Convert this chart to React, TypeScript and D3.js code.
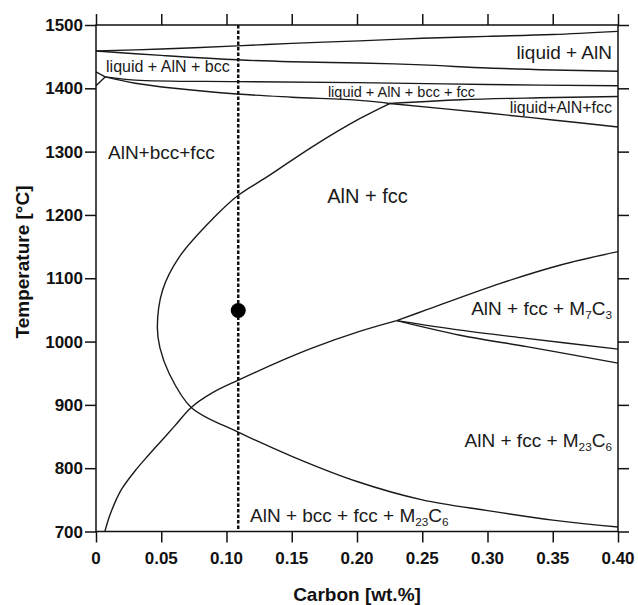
import React, { Component } from "react";
import * as d3 from "d3";

// axis ticks
const xTicks = [0, 0.05, 0.1, 0.15, 0.2, 0.25, 0.3, 0.35, 0.4];
const xTickLabels = ["0", "0.05", "0.10", "0.15", "0.20", "0.25", "0.30", "0.35", "0.40"];
const yTicks = [700, 800, 900, 1000, 1100, 1200, 1300, 1400, 1500];

// phase boundaries, [carbon wt.%, temperature °C]
const liquidus = [[0, 1459], [0.05, 1462], [0.108, 1467], [0.15, 1471], [0.202, 1475], [0.25, 1479], [0.3, 1482], [0.35, 1485], [0.4, 1490]];
const liquidAlnLower = [[0, 1459], [0.05, 1452], [0.108, 1445], [0.15, 1442], [0.202, 1440], [0.25, 1437], [0.3, 1432], [0.35, 1429], [0.4, 1427]];
const bccNoseTop = [[0, 1426], [0.007, 1418]];
const bccNoseBottom = [[0, 1404], [0.007, 1418]];
const bccUpper = [[0.007, 1418], [0.03, 1413], [0.108, 1410.5], [0.2, 1409], [0.3, 1406], [0.4, 1404]];
const bccLower = [[0.007, 1418], [0.03, 1408], [0.06, 1400], [0.108, 1391], [0.15, 1386], [0.202, 1381], [0.225, 1376]];
const fourPhaseLower = [[0.225, 1376], [0.28, 1382], [0.34, 1385], [0.4, 1387]];
const fccLiquidLower = [[0.225, 1376], [0.3, 1361], [0.35, 1350], [0.4, 1339]];
const fccBoundary = [
  [0.225, 1376], [0.202, 1352], [0.166, 1308], [0.131, 1260], [0.109, 1231], [0.09, 1195],
  [0.064, 1134], [0.051, 1081], [0.047, 1023], [0.049, 990], [0.056, 950], [0.073, 896],
  [0.109, 857], [0.151, 818], [0.2, 779], [0.25, 750], [0.3, 733], [0.35, 718], [0.4, 707],
];
const carbideBoundary = [
  [0.0068, 700], [0.01, 722], [0.015, 748], [0.02, 768], [0.03, 796], [0.04, 820], [0.05, 843],
  [0.06, 866], [0.073, 896], [0.09, 920], [0.109, 939], [0.1435, 971], [0.166, 990],
  [0.202, 1016], [0.2304, 1033],
];
const m7c3Upper = [[0.2304, 1033], [0.253, 1050], [0.31, 1092], [0.356, 1121], [0.4, 1142]];
const m7c3LowerA = [[0.2304, 1033], [0.279, 1018], [0.33, 1005], [0.4, 988]];
const m7c3LowerB = [[0.2304, 1033], [0.279, 1010], [0.33, 992], [0.4, 966]];

const curves = [
  liquidus, liquidAlnLower, bccNoseTop, bccNoseBottom, bccUpper, bccLower,
  fourPhaseLower, fccLiquidLower, fccBoundary, carbideBoundary, m7c3Upper, m7c3LowerA, m7c3LowerB,
];

// alloy composition and the marked point
const alloyCarbon = 0.109;
const markedPoint = [0.109, 1049];

// region labels: text, carbon, temperature, anchor, size
const regionLabels = [
  ["liquid + AlN", 0.3954, 1447, "end", 19],
  ["liquid + AlN + bcc", 0.0077, 1425, "start", 16],
  ["liquid + AlN + bcc + fcc", 0.2904, 1386.5, "end", 14.5],
  ["liquid+AlN+fcc", 0.3954, 1361, "end", 16],
  ["AlN+bcc+fcc", 0.0092, 1289, "start", 19],
  ["AlN + fcc", 0.1772, 1219, "start", 20],
  ["AlN + fcc + M_{7}C_{3}", 0.3954, 1042, "end", 19],
  ["AlN + fcc + M_{23}C_{6}", 0.3954, 833, "end", 19],
  ["AlN + bcc + fcc + M_{23}C_{6}", 0.118, 715, "start", 19],
];

class App extends Component {
  componentDidMount() {
    this.draw();
  }

  draw() {
    const svg = d3.select(".phase_svg");
    const left = 96, right = 618, top = 25, bottom = 531.5;
    const font = "'Liberation Sans', Arial, Helvetica, sans-serif";

    const x = d3.scaleLinear().domain([0, 0.4]).range([left, right]);
    const y = d3.scaleLinear().domain([700, 1500]).range([bottom, top]);

    // frame
    svg.append("rect")
      .attr("x", left).attr("y", top)
      .attr("width", right - left).attr("height", bottom - top)
      .attr("fill", "none").attr("stroke", "#111").attr("stroke-width", 1.5);

    const tick = 11;
    const axes = [
      { axis: d3.axisBottom(x), t: `translate(0,${bottom})` },
      { axis: d3.axisTop(x), t: `translate(0,${top})` },
      { axis: d3.axisLeft(y), t: `translate(${left},0)` },
      { axis: d3.axisRight(y), t: `translate(${right},0)` },
    ];
    axes.forEach((a, i) => {
      const ax = i < 2 ? a.axis.tickValues(xTicks) : a.axis.tickValues(yTicks);
      ax.tickSize(tick).tickSizeOuter(0).tickPadding(2);
      const g = svg.append("g").attr("transform", a.t).call(ax);
      g.select(".domain").remove();
      g.selectAll("line").attr("stroke", "#111").attr("stroke-width", 1.5);
      g.selectAll("text").remove();
    });

    // tick labels
    svg.append("g").selectAll("text")
      .data(xTicks)
      .join("text")
      .attr("x", (d) => x(d))
      .attr("y", 564)
      .attr("text-anchor", "middle")
      .style("font-family", font)
      .style("font-size", "17px")
      .style("font-weight", "bold")
      .attr("fill", "#111")
      .text((d, i) => xTickLabels[i]);

    svg.append("g").selectAll("text")
      .data(yTicks)
      .join("text")
      .attr("x", left - tick - 2)
      .attr("y", (d) => y(d))
      .attr("dy", "0.36em")
      .attr("text-anchor", "end")
      .style("font-family", font)
      .style("font-size", "17px")
      .style("font-weight", "bold")
      .attr("fill", "#111")
      .text((d) => d);

    // axis titles
    svg.append("text")
      .attr("x", (left + right) / 2)
      .attr("y", 601)
      .attr("text-anchor", "middle")
      .style("font-family", font)
      .style("font-size", "19px")
      .style("font-weight", "bold")
      .attr("fill", "#111")
      .text("Carbon [wt.%]");

    svg.append("text")
      .attr("transform", `translate(29,262) rotate(-90)`)
      .attr("text-anchor", "middle")
      .style("font-family", font)
      .style("font-size", "19px")
      .style("font-weight", "bold")
      .attr("fill", "#111")
      .text("Temperature [°C]");

    // phase boundaries
    const line = d3.line()
      .x((d) => x(d[0]))
      .y((d) => y(d[1]))
      .curve(d3.curveCatmullRom.alpha(0.5));

    svg.append("g").selectAll("path")
      .data(curves)
      .join("path")
      .attr("d", line)
      .attr("fill", "none")
      .attr("stroke", "#1a1a1a")
      .attr("stroke-width", 1.4);

    // alloy composition line
    svg.append("line")
      .attr("x1", x(alloyCarbon)).attr("x2", x(alloyCarbon))
      .attr("y1", y(1500)).attr("y2", y(700))
      .attr("stroke", "#111")
      .attr("stroke-width", 2.5)
      .attr("stroke-dasharray", "3.5,2");

    svg.append("circle")
      .attr("cx", x(markedPoint[0]))
      .attr("cy", y(markedPoint[1]))
      .attr("r", 7.5)
      .attr("fill", "#000");

    // region labels with subscripts
    regionLabels.forEach(([label, c, t, anchor, size]) => {
      const txt = svg.append("text")
        .attr("x", x(c))
        .attr("y", y(t))
        .attr("text-anchor", anchor)
        .style("font-family", font)
        .style("font-size", size + "px")
        .attr("fill", "#1a1a1a");
      const parts = label.split(/_\{(\d+)\}/);
      let shifted = false;
      parts.forEach((p, i) => {
        if (p === "") return;
        const isSub = i % 2 === 1;
        const ts = txt.append("tspan").text(p);
        if (isSub) {
          ts.style("font-size", size * 0.62 + "px").attr("dy", shifted ? 0 : 4);
          shifted = true;
        } else {
          if (shifted) ts.attr("dy", -4);
          shifted = false;
        }
      });
    });
  }

  render() {
    return (
      <svg
        className="phase_svg"
        width={638}
        height={605}
        style={{ position: "absolute", left: 0, top: 0, background: "#fff" }}
      ></svg>
    );
  }
}

export default App;
